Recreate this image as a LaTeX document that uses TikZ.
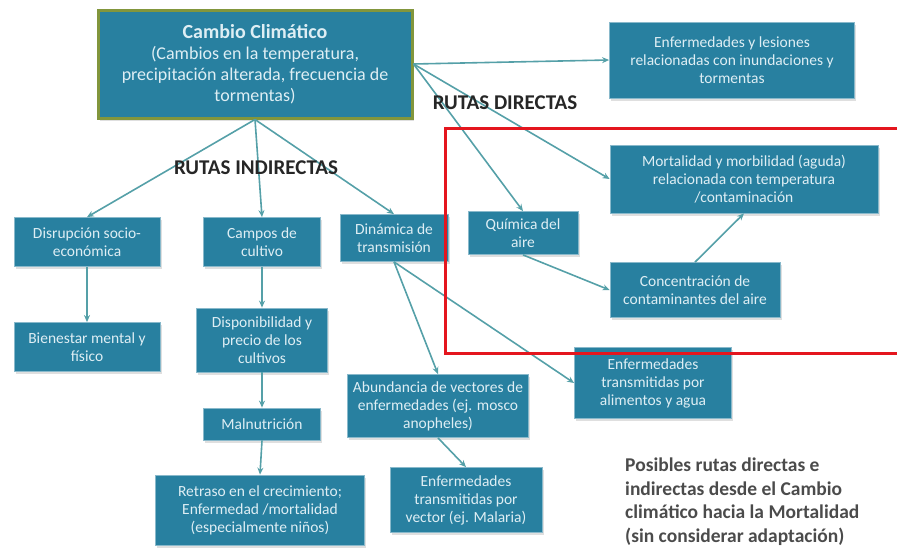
\documentclass[tikz,border=0pt]{standalone}
\usepackage{fontspec}
\setmainfont{Carlito}
\usetikzlibrary{arrows.meta,shadows}
\definecolor{kasten}{RGB}{40,128,160}
\definecolor{rand}{RGB}{130,150,60}
\definecolor{pfeil}{RGB}{85,160,168}
\definecolor{rot}{RGB}{228,22,30}
\definecolor{schrift}{RGB}{222,238,244}
\definecolor{grau}{RGB}{75,75,75}
\begin{document}
\begin{tikzpicture}[x=1pt, y=-1pt,
	box/.style={fill=kasten, draw=kasten!55!white, line width=0.8pt, text=schrift, align=center,
		font=\fontsize{15.5}{18}\selectfont, inner sep=1pt,
		drop shadow={shadow xshift=1.5pt, shadow yshift=-2.5pt, opacity=0.25}},
	pfeil/.style={draw=pfeil, line width=1.6pt, -{Stealth[length=7pt, width=6pt]}},
	titel/.style={font=\fontsize{21}{24}\selectfont\bfseries, text=black!85}]
	\useasboundingbox (0,0) rectangle (897,552);
	
	%Kasten oben
	\node[box, draw=rand, line width=3pt, minimum width=314pt, minimum height=108pt,
		font=\fontsize{18}{21}\selectfont] (klima) at (255,64)
		{{\fontsize{20}{22}\selectfont\bfseries Cambio Climático}\\(Cambios en la temperatura,\\precipitación alterada, frecuencia de\\tormentas)};
	
	%Rutas directas
	\node[box, minimum width=245pt, minimum height=76pt] (inund) at (732,60)
		{Enfermedades y lesiones\\relacionadas con inundaciones y\\tormentas};
	\node[box, minimum width=268pt, minimum height=68pt] (mort) at (744,179)
		{Mortalidad y morbilidad (aguda)\\relacionada con temperatura\\/contaminación};
	\node[box, minimum width=110pt, minimum height=43pt] (quim) at (523,233)
		{Química del\\aire};
	\node[box, minimum width=170pt, minimum height=55pt] (conc) at (695,290)
		{Concentración de\\contaminantes del aire};
	
	%Rutas indirectas
	\node[box, minimum width=146pt, minimum height=49pt] (disr) at (87,242)
		{Disrupción socio-\\económica};
	\node[box, minimum width=117pt, minimum height=49pt] (campos) at (262,242)
		{Campos de\\cultivo};
	\node[box, minimum width=108pt, minimum height=47pt] (dinam) at (394,238)
		{Dinámica de\\transmisión};
	\node[box, minimum width=146pt, minimum height=49pt] (bien) at (87,347)
		{Bienestar mental y\\físico};
	\node[box, minimum width=131pt, minimum height=64pt] (disp) at (262,340)
		{Disponibilidad y\\precio de los\\cultivos};
	\node[box, minimum width=117pt, minimum height=32pt] (maln) at (262,424)
		{Malnutrición};
	\node[box, minimum width=209pt, minimum height=70pt] (retr) at (260,510)
		{Retraso en el crecimiento;\\Enfermedad /mortalidad\\(especialmente niños)};
	\node[box, minimum width=181pt, minimum height=63pt] (abund) at (438,406)
		{Abundancia de vectores de\\enfermedades (ej. mosco\\anopheles)};
	\node[box, minimum width=152pt, minimum height=65pt] (vect) at (466,500)
		{Enfermedades\\transmitidas por\\vector (ej. Malaria)};
	\node[box, minimum width=157pt, minimum height=71pt] (alim) at (653,383)
		{Enfermedades\\transmitidas por\\alimentos y agua};
	
	%Pfeile
	\draw[pfeil] (klima.east) -- (inund.west);
	\draw[pfeil] (klima.east) -- (mort.west);
	\draw[pfeil] (klima.east) -- (quim.north);
	\draw[pfeil] (quim.south) -- (conc.west);
	\draw[pfeil] (conc.north) -- (mort.south);
	\draw[pfeil] (klima.south) -- (disr.north);
	\draw[pfeil] (klima.south) -- (campos.north);
	\draw[pfeil] (klima.south) -- (dinam.north);
	\draw[pfeil] (disr.south) -- (bien.north);
	\draw[pfeil] (campos.south) -- (disp.north);
	\draw[pfeil] (disp.south) -- (maln.north);
	\draw[pfeil] (maln.south) -- (retr.north);
	\draw[pfeil] (dinam.south) -- (abund.north);
	\draw[pfeil] (dinam.south) -- (alim.west);
	\draw[pfeil] (abund.south) -- (vect.north);
	
	%Rahmen
	\draw[rot, line width=3pt] (900,128) -- (445,128) -- (445,353) -- (900,353);
	
	%Beschriftung
	\node[titel] (direkt) at (505,103) {RUTAS DIRECTAS};
	\node[titel] (indirekt) at (256,168) {RUTAS INDIRECTAS};
	\node[anchor=north west, align=left, text=grau, inner sep=0pt,
		font=\fontsize{19.5}{23.5}\selectfont\bfseries] (legende) at (625,458)
		{Posibles rutas directas e\\indirectas desde el Cambio\\climático hacia la Mortalidad\\(sin considerar adaptación)};
	
\end{tikzpicture}
\end{document}
